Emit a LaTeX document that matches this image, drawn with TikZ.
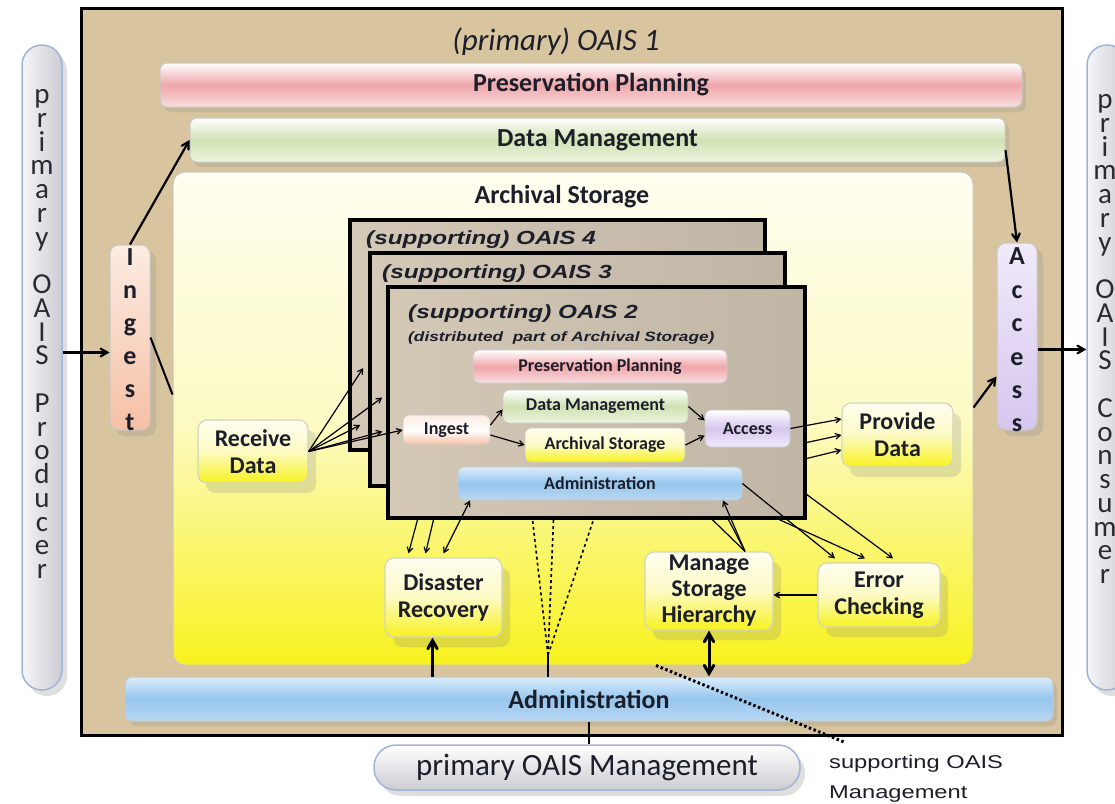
\documentclass[tikz,border=0pt]{standalone}
\usepackage{fontspec}
\setmainfont{Carlito}
\newfontfamily\supfont[FakeStretch=1.28]{Liberation Sans}
\usepackage{xcolor}
\usepackage{tikz}
\usetikzlibrary{arrows,shapes,shapes.misc,shadows}

\newcommand\stackletters{\lineskiplimit -100pt\relax}

\definecolor{parch}{RGB}{216,196,158}
\definecolor{suppL}{RGB}{212,200,182}
\definecolor{suppR}{RGB}{192,182,166}
\definecolor{ink}{RGB}{28,30,42}
\definecolor{pinkc}{RGB}{240,166,170}
\definecolor{pinkB}{RGB}{248,222,222}
\definecolor{greenc}{RGB}{208,226,180}
\definecolor{greenB}{RGB}{238,244,222}
\definecolor{bluec}{RGB}{150,198,238}
\definecolor{blueT}{RGB}{218,236,250}
\definecolor{blueB}{RGB}{185,215,242}
\definecolor{peachc}{RGB}{246,192,165}
\definecolor{peachT}{RGB}{252,236,226}
\definecolor{lilacc}{RGB}{214,198,238}
\definecolor{lilacT}{RGB}{240,234,250}
\definecolor{yellowc}{RGB}{248,242,30}
\definecolor{paleyel}{RGB}{252,250,196}
\definecolor{creamc}{RGB}{255,254,240}
\definecolor{pillL}{RGB}{246,246,249}
\definecolor{pillgray}{RGB}{204,204,210}
\definecolor{pillblue}{RGB}{160,180,215}
\definecolor{edgec}{RGB}{200,200,200}
\definecolor{taskedge}{RGB}{210,214,190}
\definecolor{lettergray}{RGB}{42,42,50}

\begin{document}
\begin{tikzpicture}[x=1pt, y=-1pt, >=angle 60, inner sep=0pt,
    frame/.style={rectangle, draw=black, line width=3pt, fill=parch},
    suppbox/.style={rectangle, draw=black, line width=3.5pt, left color=suppL, right color=suppR},
    pill/.style={rectangle, rounded corners=20pt, draw=pillblue, line width=1.5pt,
      drop shadow={shadow xshift=5pt, shadow yshift=-6pt, opacity=0.25}},
    bar/.style={rectangle, rounded corners=7pt, draw=edgec, line width=1pt,
      font=\fontsize{26}{30}\selectfont\bfseries, text=ink},
    sub/.style={rectangle, rounded corners=6pt, draw=edgec, line width=.8pt,
      font=\fontsize{18}{20}\selectfont\bfseries, text=ink},
    task/.style={rectangle, rounded corners=9pt, draw=taskedge, line width=1.2pt,
      top color=creamc, bottom color=yellowc, middle color=paleyel,
      font=\fontsize{24}{27}\selectfont\bfseries, text=ink, align=center,
      drop shadow={shadow xshift=8pt, shadow yshift=-10pt, opacity=0.22}},
    vtext/.style={align=center, font=\fontsize{26}{33}\selectfont\bfseries\stackletters, text=ink},
    ptext/.style={align=center, font=\fontsize{29}{23.75}\selectfont\stackletters, text=lettergray},
    suplabel/.style={anchor=west, font=\supfont\fontsize{19}{22}\selectfont\bfseries\itshape, text=ink},
    flow/.style={->, line width=2.2pt},
    heavy/.style={->, line width=3pt},
    fan/.style={->, line width=1.2pt},
    fanline/.style={line width=1.2pt},
    dashline/.style={line width=1.6pt, dashed},
    dotline/.style={line width=3pt, dash pattern=on 2.5pt off 2.5pt}]

  \path[use as bounding box, fill=white] (0,0) rectangle (1115,803);

  \node[pill, minimum width=40pt, minimum height=645pt, left color=pillL, right color=pillgray] (prod) at (42,367.5) {};
  \node[pill, minimum width=40pt, minimum height=645pt, left color=pillL, right color=pillgray] (cons) at (1107,367.5) {};
  \node[ptext] (prodtxt) at (42,334) {p\\r\\i\\m\\a\\r\\y\\~\\O\\A\\I\\S\\~\\P\\r\\o\\d\\u\\c\\e\\r};
  \node[ptext] (constxt) at (1105,339) {p\\r\\i\\m\\a\\r\\y\\~\\O\\A\\I\\S\\~\\C\\o\\n\\s\\u\\m\\e\\r};

  \node[frame, minimum width=981pt, minimum height=727pt] (oais1) at (571.5,371.5) {};
  \node[font=\fontsize{31}{36}\selectfont\itshape, text=ink] (title) at (556,42) {(primary) OAIS 1};

  \node[bar, minimum width=862pt, minimum height=44pt, top color=white, bottom color=pinkB, middle color=pinkc,
    drop shadow={shadow xshift=4pt, shadow yshift=-5pt, opacity=0.2}] (pp) at (591,85) {Preservation Planning};
  \node[bar, minimum width=815pt, minimum height=44pt, top color=white, bottom color=greenB, middle color=greenc,
    drop shadow={shadow xshift=4pt, shadow yshift=-5pt, opacity=0.2}] (dm) at (597.5,140) {Data Management};
  \node[bar, rounded corners=12pt, minimum width=800pt, minimum height=493pt, top color=creamc, bottom color=yellowc, middle color=paleyel] (as) at (573,418.5) {};
  \node[font=\fontsize{26}{30}\selectfont\bfseries, text=ink] (astitle) at (562,197) {Archival Storage};
  \node[bar, minimum width=928pt, minimum height=44pt, top color=blueT, bottom color=blueB, middle color=bluec,
    drop shadow={shadow xshift=4pt, shadow yshift=-5pt, opacity=0.2}] (adm) at (589,699) {Administration};

  \node[bar, rounded corners=9pt, minimum width=40pt, minimum height=185pt, top color=peachT, bottom color=peachc,
    drop shadow={shadow xshift=6pt, shadow yshift=-6pt, opacity=0.2}] (ing) at (130,337.5) {};
  \node[vtext] (ingtxt) at (130,340) {I\\n\\g\\e\\s\\t};
  \node[bar, rounded corners=9pt, minimum width=40pt, minimum height=187pt, top color=lilacT, bottom color=lilacc,
    drop shadow={shadow xshift=6pt, shadow yshift=-6pt, opacity=0.2}] (acc) at (1017,336.5) {};
  \node[vtext, font=\fontsize{26}{33.4}\selectfont\bfseries\stackletters] (acctxt) at (1017,340) {A\\c\\c\\e\\s\\s};

  \node[suppbox, minimum width=415pt, minimum height=230pt] (sup4) at (557.5,335) {};
  \node[suplabel] (sup4lbl) at (366,240) {(supporting) OAIS 4};
  \node[suppbox, minimum width=415pt, minimum height=233pt] (sup3) at (577.5,369.5) {};
  \node[suplabel] (sup3lbl) at (382,274) {(supporting) OAIS 3};
  \node[suppbox, minimum width=417pt, minimum height=231pt] (sup2) at (596.5,402.5) {};
  \node[suplabel] (sup2lbl) at (408,314) {(supporting) OAIS 2};
  \node[suplabel, font=\supfont\fontsize{13.5}{16}\selectfont\bfseries\itshape] (sup2sub) at (408,338) {(distributed\ \ part of Archival Storage)};

  \node[sub, minimum width=254pt, minimum height=33pt, top color=white, bottom color=pinkB, middle color=pinkc] (pp2) at (600,366.5) {Preservation Planning};
  \node[sub, minimum width=185pt, minimum height=33pt, top color=white, bottom color=greenB, middle color=greenc] (dm2) at (595.5,406.5) {Data Management};
  \node[sub, minimum width=87pt, minimum height=30pt, top color=peachT, bottom color=peachc, middle color=white] (ing2) at (446.5,430) {Ingest};
  \node[sub, minimum width=160pt, minimum height=34pt, top color=creamc, bottom color=yellowc, middle color=paleyel] (as2) at (605,445) {Archival Storage};
  \node[sub, minimum width=85pt, minimum height=37pt, top color=white, bottom color=lilacT, middle color=lilacc] (acc2) at (747.5,428.5) {Access};
  \node[sub, minimum width=284pt, minimum height=33pt, top color=blueT, bottom color=blueB, middle color=bluec] (adm2) at (600,483.5) {Administration};

  \node[task, minimum width=110pt, minimum height=63pt] (rd) at (253,451.5) {Receive\\Data};
  \node[task, minimum width=111pt, minimum height=64pt] (pd) at (897.5,435) {Provide\\Data};
  \node[task, minimum width=117pt, minimum height=79pt] (dr) at (443.5,597.5) {Disaster\\Recovery};
  \node[task, minimum width=128pt, minimum height=78pt, font=\fontsize{24}{26}\selectfont\bfseries] (msh) at (709,591) {Manage\\Storage\\Hierarchy};
  \node[task, minimum width=122pt, minimum height=64pt] (ec) at (879,595) {Error\\Checking};

  \node[pill, rounded corners=22pt, minimum width=426pt, minimum height=45pt, top color=white, bottom color=pillgray,
    font=\fontsize{31}{34}\selectfont, text=ink] (mgmt) at (587,767.5) {primary OAIS Management};
  \node[anchor=north west, align=left, font=\supfont\fontsize{18.5}{30}\selectfont, text=ink] (supmgmt) at (829,755) {supporting OAIS\\Management};

  \draw[flow] ([yshift=-15pt]ing.west -| prod.east) -- ([yshift=-15pt]ing.west);
  \draw[flow] (ing.north) -- (dm.west);
  \draw[line width=2pt] (ing.east) -- ([yshift=24pt]as.west);
  \draw[flow] ([yshift=-10pt]dm.east) -- (acc.north);
  \draw[flow] ([yshift=-13pt]acc.east) -- ([yshift=-13pt]acc.east -| cons.west);
  \draw[flow] ([yshift=11pt]as.east) -- ([yshift=-40pt]acc.west);

  \draw[fan] (rd.east) -- ([xshift=15pt,yshift=-33pt]sup4.west);
  \draw[fan] (rd.east) -- ([xshift=14pt,yshift=-28pt]sup3.west);
  \draw[fan] (rd.east) -- ([xshift=12pt,yshift=-90pt]sup4.west);
  \draw[fan] (rd.east) -- ([xshift=14pt,yshift=-62pt]sup3.west);
  \draw[fan] (rd.east) -- (ing2.west);

  \draw[fan] ([yshift=5pt]ing2.east) -- ([yshift=-3pt]dm2.west);
  \draw[fan] ([yshift=-5pt]ing2.east) -- (as2.west);
  \draw[fan] (dm2.east) -- ([yshift=8pt]acc2.west);
  \draw[fan] (as2.east) -- ([yshift=-7pt]acc2.west);

  \draw[fan] (acc2.east) -- ([yshift=16pt]pd.west);
  \draw[fan] ([yshift=-40pt]sup2.east) -- (pd.west);
  \draw[fan] ([yshift=-56pt]sup2.east) -- ([yshift=-15pt]pd.west);

  \draw[fan] ([xshift=-179pt]sup2.south) -- ([xshift=-35pt,yshift=4pt]dr.north);
  \draw[fan] ([xshift=-163pt]sup2.south) -- ([xshift=-18pt,yshift=4pt]dr.north);
  \draw[fan, <->] ([xshift=-130pt]adm2.south) -- ([yshift=4pt]dr.north);
  \draw[heavy] ([xshift=-11pt]dr.south |- adm.north) -- ([xshift=-11pt]dr.south);

  \coordinate (fanjoin) at (548,655);
  \draw[line width=2.5pt] (adm.north -| fanjoin) -- (fanjoin);
  \draw[dashline] (fanjoin) -- ([xshift=-64pt]sup2.south);
  \draw[dashline] (fanjoin) -- ([xshift=-43pt]sup2.south);
  \draw[dashline] (fanjoin) -- ([xshift=-3pt]sup2.south);

  \draw[fanline] ([xshift=36pt]msh.north) -- ([xshift=116pt]sup2.south);
  \draw[fanline] ([xshift=36pt]msh.north) -- ([xshift=132pt]sup2.south);
  \draw[fan] ([xshift=36pt]msh.north) -- ([xshift=123pt]adm2.south);
  \draw[heavy, <->] (msh.south) -- (msh.south |- adm.north);

  \draw[fan] (adm2.east) -- ([xshift=-44pt,yshift=4pt]ec.north);
  \draw[fan] ([xshift=183pt]sup2.south) -- ([xshift=-14pt,yshift=4pt]ec.north);
  \draw[fan] ([yshift=-92pt]sup2.east) -- ([xshift=14pt,yshift=4pt]ec.north);
  \draw[fan] (ec.west) -- (ec.west -| msh.east);

  \draw[line width=2.5pt] (adm.south) -- (adm.south |- mgmt.north);
  \draw[dotline] ([xshift=83pt]as.south) -- ([xshift=15pt,yshift=13pt]supmgmt.north west);
\end{tikzpicture}
\end{document}
